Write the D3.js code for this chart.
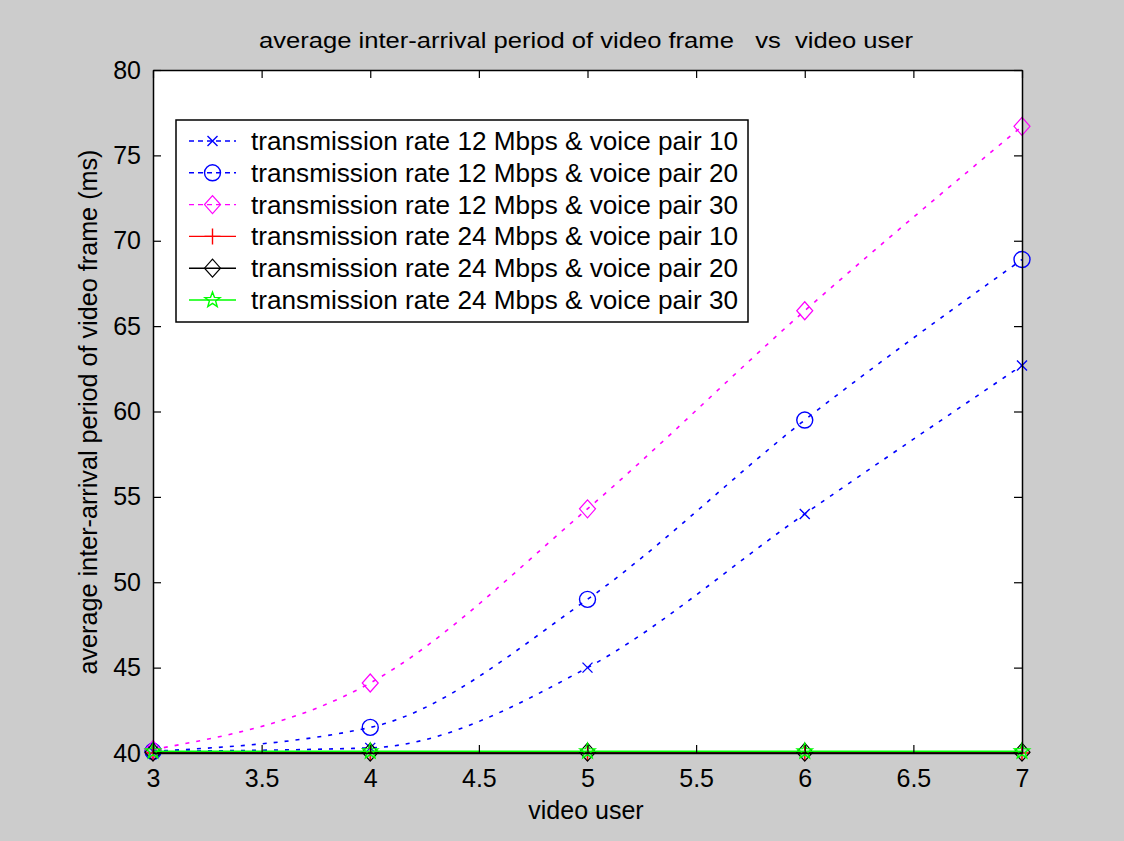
<!DOCTYPE html>
<html lang="en">
<head>
    <meta charset="UTF-8">
    <style>
        html, body {
            margin:0;
            height:100%;
            overflow:hidden;
            background:#cccccc;
        }
        svg {
            position:absolute;
            top:0;
            left:0;
        }
        text {
            font-family:"Liberation Sans", Arial, sans-serif;
            fill:#000;
        }
    </style>
    <script src="https://d3js.org/d3.v7.min.js"></script>
</head>
<body>
<svg width="1124" height="841"></svg>
<script>
    // data
    var users = [3, 4, 5, 6, 7];
    var rate12vp10 = [40.1, 40.3, 45.0, 54.0, 62.7];
    var rate12vp20 = [40.1, 41.5, 49.0, 59.5, 68.9];
    var rate12vp30 = [40.2, 44.1, 54.3, 65.9, 76.7];
    var rate24vp10 = [40.0, 40.0, 40.0, 40.0, 40.0];
    var rate24vp20 = [40.05, 40.05, 40.05, 40.05, 40.05];
    var rate24vp30 = [40.1, 40.1, 40.1, 40.1, 40.1];
    var seriesNames = [
        "transmission rate 12 Mbps & voice pair 10",
        "transmission rate 12 Mbps & voice pair 20",
        "transmission rate 12 Mbps & voice pair 30",
        "transmission rate 24 Mbps & voice pair 10",
        "transmission rate 24 Mbps & voice pair 20",
        "transmission rate 24 Mbps & voice pair 30"
    ];
    var xTicks = [3, 3.5, 4, 4.5, 5, 5.5, 6, 6.5, 7];
    var yTicks = [40, 45, 50, 55, 60, 65, 70, 75, 80];

    draw();

    function draw() {
        var styles = [
            {color:"#0000ff", dash:"4,7", marker:"x"},
            {color:"#0000ff", dash:"4,7", marker:"o"},
            {color:"#ff00ff", dash:"4,7", marker:"d"},
            {color:"#ff0000", dash:null, marker:"+"},
            {color:"#000000", dash:null, marker:"d"},
            {color:"#00ff00", dash:null, marker:"p"}
        ];
        var allValues = [rate12vp10, rate12vp20, rate12vp30, rate24vp10, rate24vp20, rate24vp30];

        var svg = d3.select("svg");
        var pLeft = 153, pRight = 1022, pTop = 70, pBottom = 753;

        var x = d3.scaleLinear().domain([3, 7]).range([pLeft, pRight]);
        var y = d3.scaleLinear().domain([40, 80]).range([pBottom, pTop]);

        svg.append("rect")
            .attr("x", pLeft).attr("y", pTop)
            .attr("width", pRight - pLeft).attr("height", pBottom - pTop)
            .attr("fill", "#fff");

        function styleAxis(g) {
            g.selectAll("path").attr("stroke", "#000").attr("stroke-width", 1.5);
            g.selectAll("line").attr("stroke", "#000").attr("stroke-width", 1.2);
            g.selectAll("text")
                .style("font-size", "25px")
                .attr("fill", "#000");
        }

        // marker shapes
        function marker(g, type, cx, cy, color) {
            if (type === "x") {
                g.append("path")
                    .attr("d", "M" + (cx - 5) + "," + (cy - 5) + "L" + (cx + 5) + "," + (cy + 5) +
                        "M" + (cx - 5) + "," + (cy + 5) + "L" + (cx + 5) + "," + (cy - 5))
                    .attr("stroke", color).attr("stroke-width", 1.4).attr("fill", "none");
            } else if (type === "o") {
                g.append("circle").attr("cx", cx).attr("cy", cy).attr("r", 8)
                    .attr("stroke", color).attr("stroke-width", 1.4).attr("fill", "none");
            } else if (type === "d") {
                g.append("path")
                    .attr("d", "M" + cx + "," + (cy - 9) + "L" + (cx + 8) + "," + cy + "L" + cx + "," + (cy + 9) +
                        "L" + (cx - 8) + "," + cy + "Z")
                    .attr("stroke", color).attr("stroke-width", 1.2).attr("fill", "none");
            } else if (type === "+") {
                g.append("path")
                    .attr("d", "M" + (cx - 8) + "," + cy + "L" + (cx + 8) + "," + cy +
                        "M" + cx + "," + (cy - 8) + "L" + cx + "," + (cy + 8))
                    .attr("stroke", color).attr("stroke-width", 1.4).attr("fill", "none");
            } else if (type === "p") {
                var pts = [];
                for (var i = 0; i < 10; i++) {
                    var a = -Math.PI / 2 + i * Math.PI / 5;
                    var r = i % 2 === 0 ? 8 : 3.3;
                    pts.push([cx + r * Math.cos(a), cy + r * Math.sin(a)]);
                }
                g.append("path")
                    .attr("d", "M" + pts.map(function(p) { return p.join(","); }).join("L") + "Z")
                    .attr("stroke", color).attr("stroke-width", 1.4).attr("fill", "none");
            }
        }

        var line = d3.line()
            .curve(d3.curveMonotoneX)
            .x(function(d, i) { return x(users[i]); })
            .y(function(d) { return y(d); });

        var plot = svg.append("g");
        allValues.forEach(function(vals, k) {
            var s = styles[k];
            plot.append("path")
                .datum(vals)
                .attr("d", line)
                .attr("fill", "none")
                .attr("stroke", s.color)
                .attr("stroke-width", s.dash ? 1.6 : 1.4)
                .attr("stroke-dasharray", s.dash);
            vals.forEach(function(v, i) {
                marker(plot, s.marker, x(users[i]), y(v), s.color);
            });
        });

        // axes with inward ticks on all four sides
        svg.append("g")
            .attr("transform", "translate(0," + pBottom + ")")
            .call(d3.axisBottom(x).tickValues(xTicks).tickSizeInner(-8).tickSizeOuter(0).tickPadding(16)
                .tickFormat(d3.format("")))
            .call(styleAxis);
        svg.append("g")
            .attr("transform", "translate(0," + pTop + ")")
            .call(d3.axisTop(x).tickValues(xTicks).tickSizeInner(-8).tickSizeOuter(0).tickFormat(""))
            .call(styleAxis);
        svg.append("g")
            .attr("transform", "translate(" + pLeft + ",0)")
            .call(d3.axisLeft(y).tickValues(yTicks).tickSizeInner(-8).tickSizeOuter(0).tickPadding(12))
            .call(styleAxis);
        svg.append("g")
            .attr("transform", "translate(" + pRight + ",0)")
            .call(d3.axisRight(y).tickValues(yTicks).tickSizeInner(-8).tickSizeOuter(0).tickFormat(""))
            .call(styleAxis);

        // title and axis labels
        svg.append("text")
            .attr("x", 586).attr("y", 48)
            .attr("text-anchor", "middle")
            .style("font-family", "'Liberation Sans Narrow', 'Liberation Sans', sans-serif")
            .style("font-size", "22px")
            .attr("textLength", 654)
            .attr("lengthAdjust", "spacingAndGlyphs")
            .style("white-space", "pre")
            .text("average inter-arrival period of video frame   vs  video user");

        svg.append("text")
            .attr("x", 586).attr("y", 819)
            .attr("text-anchor", "middle")
            .style("font-size", "25px")
            .text("video user");

        svg.append("text")
            .attr("transform", "translate(97,412) rotate(-90)")
            .attr("text-anchor", "middle")
            .style("font-size", "25px")
            .attr("textLength", 525)
            .attr("lengthAdjust", "spacingAndGlyphs")
            .text("average inter-arrival period of video frame (ms)");

        // legend
        var legend = svg.append("g");
        legend.append("rect")
            .attr("x", 176).attr("y", 120)
            .attr("width", 572).attr("height", 202)
            .attr("fill", "#fff").attr("stroke", "#000").attr("stroke-width", 1.5);
        seriesNames.forEach(function(name, k) {
            var s = styles[k];
            var ly = 141 + k * 31.8;
            legend.append("line")
                .attr("x1", 189).attr("x2", 236).attr("y1", ly).attr("y2", ly)
                .attr("stroke", s.color).attr("stroke-width", 1.4)
                .attr("stroke-dasharray", s.dash ? "5,4" : null);
            marker(legend, s.marker, 212.5, ly, s.color);
            legend.append("text")
                .attr("x", 251).attr("y", ly + 9)
                .style("font-size", "25px")
                .attr("textLength", 487)
                .attr("lengthAdjust", "spacingAndGlyphs")
                .text(name);
        });
    }
</script>
</body>
</html>
